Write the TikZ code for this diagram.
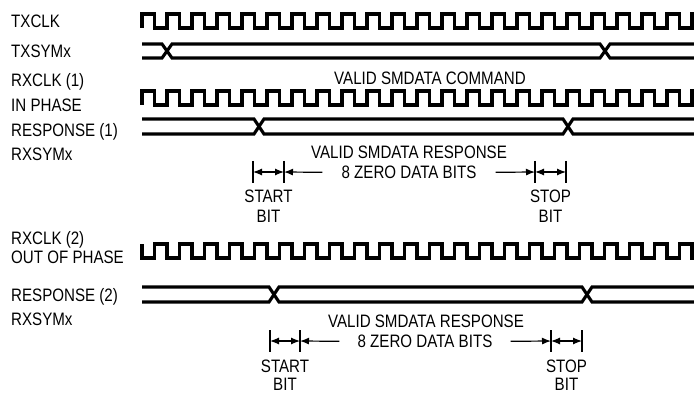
\documentclass[tikz,border=0pt]{standalone}
\usepackage{fontspec}
\setmainfont{Liberation Sans}[FakeStretch=0.84]
\usetikzlibrary{arrows.meta}

\begin{document}
\begin{tikzpicture}[x=1pt,y=-1pt,>={Latex[length=9pt,width=7pt]},
                    wave/.style={line width=3.1pt},
                    tick/.style={line width=1.2pt},
                    lbl/.style={anchor=base west,inner sep=0pt,font=\fontsize{18}{21}\selectfont},
                    txt/.style={anchor=base,inner sep=0pt,font=\fontsize{18}{21}\selectfont}]
\useasboundingbox (0,0) rectangle (694,393);

% signal names
\node[lbl] (txclk)   at (11,27.5)  {TXCLK};
\node[lbl] (txsym)   at (11,57.5)  {TXSYMx};
\node[lbl] (rxclk1)  at (11,86.5)  {RXCLK (1)};
\node[lbl] (inph)    at (11,111.5) {IN PHASE};
\node[lbl] (resp1)   at (11,136.5) {RESPONSE (1)};
\node[lbl] (rxsym1)  at (11,160.5) {RXSYMx};
\node[lbl] (rxclk2)  at (11,244.5) {RXCLK (2)};
\node[lbl] (outph)   at (11,263.5) {OUT OF PHASE};
\node[lbl] (resp2)   at (11,301.5) {RESPONSE (2)};
\node[lbl] (rxsym2)  at (11,325.5) {RXSYMx};

% waveforms
\begin{scope}
\clip (0,0) rectangle (694,393);
\foreach \y in {14,91}
  \draw[wave] (142,\y+14) \foreach \k in {1,...,23} { -- ++(0,-14) -- ++(12.5,0) -- ++(0,14) -- ++(12.5,0) };
\draw[wave] (142,244) \foreach \k in {1,...,23} { -- ++(0,14) -- ++(12.5,0) -- ++(0,-14) -- ++(12.5,0) };
\foreach \ya/\yb/\xa/\xb in {44/58/167/605,119/134/259/568,287/302/274/587} {
  \draw[wave] (142,\ya) -- (\xa-5,\ya) -- (\xa+5,\yb) -- (\xb-5,\yb) -- (\xb+5,\ya) -- (700,\ya);
  \draw[wave] (142,\yb) -- (\xa-5,\yb) -- (\xa+5,\ya) -- (\xb-5,\ya) -- (\xb+5,\yb) -- (700,\yb);
}
\end{scope}

% command / response texts
\node[txt] (cmd)    at (430,84.5)  {VALID SMDATA COMMAND};
\node[txt] (valid1) at (409,158.5) {VALID SMDATA RESPONSE};
\node[txt,inner xsep=19pt] (bits1) at (409,178.5) {8 ZERO DATA BITS};
\node[txt] (start1) at (268.5,202.5) {START};
\node[txt] (sbit1)  at (268.5,222.5) {BIT};
\node[txt] (stop1)  at (550.5,202.5) {STOP};
\node[txt] (pbit1)  at (550.5,222.5) {BIT};

\node[txt] (valid2) at (426,327.5) {VALID SMDATA RESPONSE};
\node[txt,inner xsep=18pt] (bits2) at (425,347.5) {8 ZERO DATA BITS};
\node[txt] (start2) at (285,372.5) {START};
\node[txt] (sbit2)  at (285,390) {BIT};
\node[txt] (stop2)  at (566.5,372.5) {STOP};
\node[txt] (pbit2)  at (566.5,390) {BIT};

% bit spans
\coordinate (sa1) at (253,172);
\coordinate (sb1) at (284,172);
\coordinate (pa1) at (535,172);
\coordinate (pb1) at (566,172);
\coordinate (sa2) at (270,341);
\coordinate (sb2) at (300,341);
\coordinate (pa2) at (551,341);
\coordinate (pb2) at (582,341);

\foreach \c in {sa1,sb1,pa1,pb1,sa2,sb2,pa2,pb2}
  \draw[tick] (\c) ++(0,-11) -- ++(0,22);

\draw[tick,<->] (sa1) -- (sb1);
\draw[tick,->] (bits1.west) -- (sb1);
\draw[tick,->] (bits1.east) -- (pa1);
\draw[tick,<->] (pa1) -- (pb1);

\draw[tick,<->] (sa2) -- (sb2);
\draw[tick,->] (bits2.west) -- (sb2);
\draw[tick,->] (bits2.east) -- (pa2);
\draw[tick,<->] (pa2) -- (pb2);
\end{tikzpicture}
\end{document}
